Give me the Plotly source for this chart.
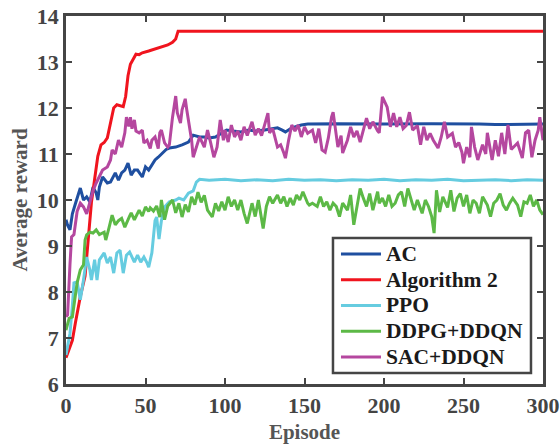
import plotly.graph_objects as go

# ---------------- data ----------------
series_names = ["AC", "Algorithm 2", "PPO", "DDPG+DDQN", "SAC+DDQN"]
series_colors = ["#1f4fa0", "#f0141e", "#66cce0", "#5cb946", "#b5479f"]

ac_ep = [0, 1, 2.5, 4, 6, 7.5, 9, 11, 13, 15, 17, 19, 20, 21, 23, 26, 28, 31, 33, 35, 37, 39, 41, 43,
         45, 48, 50, 52, 54, 56, 58, 61, 63, 65, 69, 73, 77, 80, 84, 87, 90, 94, 98, 101, 105, 110, 115,
         119, 125, 130, 133, 136, 138, 142, 145, 148, 152, 170, 200, 230, 260, 270, 300]
ac_val = [9.57, 9.45, 9.35, 9.7, 9.93, 10.1, 10.26, 10.0, 10.07, 9.96, 10.28, 10.15, 10.0, 10.28, 10.5,
          10.37, 10.39, 10.59, 10.43, 10.59, 10.65, 10.8, 10.54, 10.65, 10.65, 10.5, 10.72, 10.65, 10.76,
          10.87, 10.93, 11.04, 11.1, 11.13, 11.15, 11.2, 11.26, 11.41, 11.37, 11.37, 11.35, 11.37, 11.46,
          11.52, 11.5, 11.48, 11.52, 11.5, 11.52, 11.55, 11.57, 11.52, 11.48, 11.57, 11.6, 11.63, 11.65,
          11.66, 11.65, 11.66, 11.65, 11.64, 11.65]

alg2_ep = [0, 2, 4, 6, 9, 12, 14, 16, 18, 20, 22, 24, 26, 28, 30, 32, 34, 36, 37.5, 39, 40.5, 42, 44,
           46, 48, 52, 56, 60, 64, 67, 69, 70.5, 300]
alg2_val = [6.57, 6.75, 6.95, 7.35, 7.9, 8.35, 9.1, 9.95, 10.45, 10.95, 11.2, 11.25, 11.35, 11.7, 12.0,
            12.07, 12.05, 12.03, 12.25, 12.7, 12.95, 13.05, 13.17, 13.16, 13.2, 13.24, 13.28, 13.33,
            13.37, 13.43, 13.5, 13.67, 13.67]

ppo_ep = [0, 2.5, 4, 5, 7, 9, 11, 13, 15, 16, 18, 19.5, 21, 24, 26, 28, 30, 32, 34, 36, 38, 40, 43, 45,
          47, 49, 51, 52, 54, 56, 57, 58.5, 60, 62, 65, 69, 71, 74, 77, 80, 82, 84, 90, 100, 110, 120,
          130, 140, 150, 160, 170, 180, 190, 200, 210, 220, 230, 240, 250, 260, 270, 280, 290, 300]
ppo_val = [6.63, 7.1, 7.7, 8.2, 8.22, 7.83, 8.26, 8.76, 8.48, 8.26, 8.7, 8.26, 8.7, 8.85, 8.63, 8.76,
           8.41, 8.85, 8.91, 8.41, 8.8, 8.87, 8.65, 8.8, 8.65, 8.76, 8.63, 8.54, 8.85, 9.55, 9.63, 9.15,
           9.55, 9.85, 9.96, 10.0, 10.04, 10.0, 10.15, 10.2, 10.39, 10.45, 10.43, 10.45, 10.42, 10.44,
           10.42, 10.45, 10.43, 10.44, 10.42, 10.44, 10.43, 10.45, 10.42, 10.44, 10.43, 10.45, 10.42,
           10.43, 10.44, 10.42, 10.44, 10.43]

ddpg_ep = [0, 2, 4, 6, 7, 9, 11, 12, 13, 15, 17, 19, 21, 24, 25, 27, 29, 31, 33, 35, 37, 40, 41, 43,
           46, 48, 50, 52, 53, 55, 57, 59, 60, 62, 64, 67, 69, 71, 73, 75, 77, 79, 81, 83, 85, 87, 89,
           92, 94, 96, 98, 100, 102, 104, 106, 108, 110, 112, 114, 117, 119, 121, 123, 124, 126, 128,
           130, 133, 135, 137, 139, 141, 143, 145, 147, 149, 152, 153, 155, 158, 160, 162, 164, 166,
           168, 170, 172, 174, 177, 179, 181, 183, 185, 187, 189, 191, 193, 196, 197, 199, 201, 203,
           205, 207, 209, 211, 213, 215, 217, 219, 221, 224, 226, 228, 230, 231.5, 233, 235, 237, 240,
           242, 244, 246, 248, 250, 252, 254, 256, 258, 260, 262, 265, 267, 269, 271, 273, 275, 277,
           279, 281, 284, 286, 288, 290, 292, 294, 296, 298, 300]
ddpg_val = [7.17, 7.43, 7.46, 8.04, 8.2, 8.48, 8.59, 9.13, 9.24, 9.3, 9.28, 9.35, 9.25, 9.3, 9.13, 9.39,
            9.67, 9.46, 9.55, 9.6, 9.41, 9.65, 9.72, 9.57, 9.78, 9.65, 9.85, 9.75, 9.83, 9.76, 9.87,
            9.63, 10.0, 9.57, 9.87, 10.0, 9.72, 9.93, 9.63, 9.9, 9.74, 10.07, 9.9, 10.17, 9.95, 10.1,
            9.78, 9.63, 9.93, 9.76, 9.96, 9.78, 10.07, 9.86, 10.0, 9.78, 10.0, 9.71, 9.49, 9.93, 9.64,
            10.0, 9.57, 9.38, 9.86, 10.07, 9.93, 10.11, 9.93, 10.07, 9.86, 10.04, 9.89, 10.11, 10.0,
            10.18, 9.93, 9.89, 9.93, 9.86, 10.07, 9.86, 9.96, 9.78, 9.93, 9.86, 9.64, 9.93, 9.78, 10.11,
            9.46, 9.86, 10.25, 10.04, 9.86, 10.14, 9.78, 10.18, 9.93, 10.04, 9.86, 10.11, 9.86, 9.93,
            10.11, 10.18, 9.86, 10.25, 10.0, 9.78, 10.0, 9.71, 10.0, 9.86, 9.64, 9.28, 10.21, 9.74,
            10.07, 9.84, 10.21, 9.75, 10.04, 10.14, 9.86, 10.11, 9.71, 10.0, 9.93, 9.71, 10.07, 9.89,
            9.64, 9.93, 10.0, 10.14, 9.89, 9.78, 9.93, 10.04, 9.89, 9.64, 9.96, 9.93, 10.11, 9.86, 10.0,
            9.78, 9.68]

sac_ep = [0, 1, 2.5, 3.5, 5, 7, 9, 11, 13, 15, 17, 19, 21, 23, 26, 28, 29, 31, 33, 35, 37, 38, 39.5,
          40.5, 41.5, 43, 44, 46, 48, 49, 51, 53, 54, 56, 58, 59, 60, 62, 64, 65, 67, 69, 70, 72, 73,
          75, 76, 78, 79, 80, 82, 84, 87, 89, 91, 93, 95, 97, 99, 100, 102, 104, 106, 108, 110, 112,
          114, 117, 119, 121, 123, 125, 127, 128, 130, 133, 135, 137, 138, 140, 142, 144, 146, 148,
          150, 152, 155, 157, 159, 161, 163, 165, 167, 168, 169, 171, 173, 174, 177, 179, 181, 183,
          185, 187, 189, 191, 193, 196, 197, 199, 202, 204, 206, 208, 210, 212, 214, 216, 218, 221,
          223, 225, 227, 229, 231, 234, 236, 238, 240, 243, 245, 247, 249, 250, 252, 254, 255, 257,
          259, 262, 264, 265, 268, 270, 272, 274, 276, 278, 280, 282, 284, 287, 289, 291, 293, 295,
          297, 298, 300]
sac_val = [7.46, 7.5, 8.6, 9.2, 9.25, 9.75, 9.93, 9.85, 9.7, 9.95, 10.2, 10.37, 10.5, 10.65, 10.72,
           10.87, 11.09, 11.0, 11.3, 11.15, 11.46, 11.8, 11.6, 11.8, 11.55, 11.74, 11.5, 11.46, 11.52,
           11.24, 11.3, 11.12, 11.3, 11.37, 11.12, 11.46, 11.52, 11.24, 11.15, 11.2, 11.8, 12.26, 11.9,
           11.67, 11.96, 12.2, 11.95, 11.5, 11.3, 10.93, 11.15, 11.37, 11.15, 11.52, 11.24, 10.93,
           11.15, 11.74, 11.3, 11.52, 11.26, 11.63, 11.37, 11.5, 11.3, 11.59, 11.4, 11.7, 11.41, 11.55,
           11.4, 11.67, 11.89, 11.46, 11.55, 11.15, 11.2, 11.02, 10.91, 11.3, 11.63, 11.5, 11.63,
           11.37, 11.59, 11.45, 11.52, 11.24, 11.55, 11.09, 11.04, 11.35, 11.8, 11.91, 11.67, 11.15,
           11.4, 11.02, 11.3, 11.59, 11.37, 11.5, 11.26, 11.55, 11.78, 11.55, 11.7, 11.5, 11.46, 12.24,
           12.02, 11.59, 11.89, 11.59, 11.8, 11.55, 11.62, 11.91, 11.52, 11.62, 11.2, 11.59, 11.3,
           11.45, 11.3, 11.13, 11.37, 11.7, 11.37, 11.45, 11.15, 11.25, 11.04, 10.8, 11.15, 10.93,
           11.59, 11.15, 10.87, 11.2, 11.0, 11.46, 10.87, 11.3, 10.95, 11.46, 11.0, 11.63, 11.1, 11.17,
           11.24, 10.91, 11.46, 11.52, 10.93, 11.3, 11.52, 11.8, 11.3]

x_ticks = [0, 50, 100, 150, 200, 250, 300]
y_ticks = [6, 7, 8, 9, 10, 11, 12, 13, 14]
x_title = "Episode"
y_title = "Average reward"

# ---------------- figure ----------------
all_x = [ac_ep, alg2_ep, ppo_ep, ddpg_ep, sac_ep]
all_y = [ac_val, alg2_val, ppo_val, ddpg_val, sac_val]

fig = go.Figure()
for name, color, xs, ys in zip(series_names, series_colors, all_x, all_y):
    fig.add_trace(go.Scatter(
        x=xs, y=ys, mode="lines",
        name='<span style="font-size:21.5px">' + name + "</span>",
        line=dict(color=color, width=3)))

axis_color = "#454545"
tick_font = dict(family="Liberation Serif", size=22, color="#444444", weight="bold")
title_font = dict(family="Liberation Serif", size=21, color="#555555", weight="bold")

# legend frame (drawn as a layout shape so it can hug the entries like the reference)
fig.add_shape(type="rect", xref="paper", yref="paper",
              x0=0.5597, x1=0.9748, y0=0.030, y1=0.3967,
              line=dict(color=axis_color, width=2.5), fillcolor="white", layer="above")

fig.update_layout(
    width=560, height=447,
    margin=dict(l=66, r=17, t=16, b=63),
    paper_bgcolor="white", plot_bgcolor="white",
    font=dict(family="Liberation Serif", color="#444444"),
    showlegend=True,
    legend=dict(
        x=0.566, y=0.402, xanchor="left", yanchor="top",
        bgcolor="rgba(0,0,0,0)", borderwidth=0,
        font=dict(family="Liberation Serif", size=17.5, color="#1a1a1a", weight="bold"),
        tracegroupgap=0, itemwidth=40,
    ),
    xaxis=dict(
        range=[0, 300], tickvals=x_ticks, ticks="inside", ticklen=6, tickwidth=2,
        tickcolor=axis_color, showline=True, linecolor=axis_color, linewidth=2.5,
        mirror="ticks", showgrid=False, zeroline=False, tickfont=tick_font,
        automargin=False,
        title=dict(text=x_title, font=title_font, standoff=8),
    ),
    yaxis=dict(
        range=[6, 14], tickvals=y_ticks, ticks="inside", ticklen=6, tickwidth=2,
        tickcolor=axis_color, showline=True, linecolor=axis_color, linewidth=2.5,
        mirror="ticks", showgrid=False, zeroline=False, tickfont=tick_font,
        automargin=False,
        title=dict(text=y_title, font=title_font, standoff=4),
    ),
)

fig.write_html("out.html", config={"displayModeBar": False},
               post_script="document.body.style.margin='0';document.body.style.overflow='hidden';")
